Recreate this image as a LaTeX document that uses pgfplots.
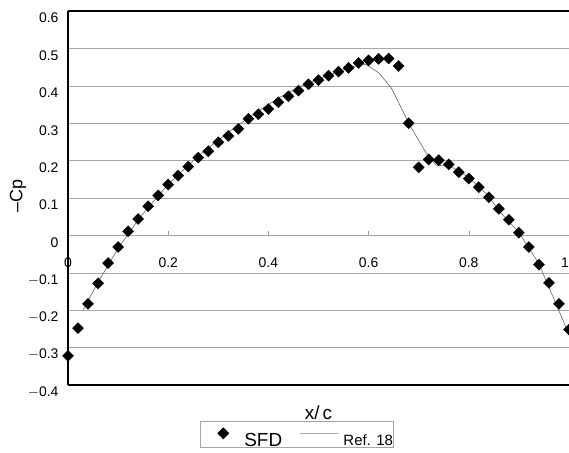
\documentclass[border=0pt]{standalone}
\usepackage{pgfplots}
\pgfplotsset{compat=1.18}
\usepackage{fontspec}
\setmainfont{Liberation Sans}
\begin{document}
\begin{tikzpicture}
\begin{axis}[
  scale only axis, width=501bp, height=374bp,
  xmin=0, xmax=1, ymin=-0.4, ymax=0.6,
  axis x line*=middle, axis y line*=left,
  hide obscured x ticks=false,
  x axis line style={gray!70, line width=0.6bp},
  y axis line style={black, line width=1.8bp},
  xtick={0,0.2,0.4,0.6,0.8,1},
  xticklabels={0,0.2,0.4,0.6,0.8,\llap{1}},
  ytick={-0.4,-0.3,-0.2,-0.1,0,0.1,0.2,0.3,0.4,0.5,0.6},
  yticklabels={$-$0.4,$-$0.3,$-$0.2,$-$0.1,0,0.1,0.2,0.3,0.4,0.5,0.6},
  ymajorgrids,
  major grid style={gray!70, line width=0.6bp},
  xtick align=inside,
  x tick style={gray!80, line width=0.5bp},
  y tick style={draw=none},
  major tick length=4bp,
  tick label style={font=\fontsize{14}{14}\selectfont},
  xticklabel style={yshift=-19bp},
  yticklabel style={yshift=-7bp, xshift=-6bp},
  /pgf/number format/assume math mode=true,
  every axis x label/.style={at={(axis description cs:0.5,0)}, anchor=center, yshift=-28bp},
  every axis y label/.style={at={(axis description cs:-0.0998,0.505)}, anchor=center, rotate=90},
  xlabel={\fontsize{19}{19}\selectfont x/\,c},
  ylabel={\fontsize{18}{18}\selectfont –Cp},
  clip=false,
  legend columns=2,
  legend style={at={(axis description cs:0.2635,-0.0963)}, anchor=north west,
    draw=gray!70, line width=0.6bp, inner sep=0pt,
    nodes={inner sep=0pt, text depth=0pt},
    /tikz/every even column/.append style={column sep=18bp}},
]
\draw[black, line width=1.2bp] (rel axis cs:0,1) -- (rel axis cs:1,1);
\draw[black, line width=1.8bp] (rel axis cs:0,0) -- (rel axis cs:1,0);

\addplot[only marks, mark=square*, mark size=3.9bp, mark options={rotate=45}, black,
  legend image code/.code={
    \path[draw=none, fill=none] (0bp,-7bp) rectangle (44bp,19bp);
    \fill[black] plot[mark=square*, mark size=3.9bp, mark options={rotate=45}] coordinates {(23bp,7bp)};}]
coordinates {
(0.000,-0.322) (0.020,-0.248) (0.040,-0.183) (0.060,-0.128) (0.080,-0.074)
(0.100,-0.031) (0.120,0.011) (0.140,0.044) (0.160,0.078) (0.180,0.107)
(0.200,0.136) (0.220,0.160) (0.240,0.184) (0.260,0.208) (0.280,0.225)
(0.300,0.249) (0.320,0.266) (0.340,0.285) (0.360,0.312) (0.380,0.324)
(0.400,0.338) (0.420,0.356) (0.440,0.372) (0.460,0.387) (0.480,0.404)
(0.500,0.415) (0.520,0.427) (0.540,0.438) (0.560,0.448) (0.580,0.461)
(0.600,0.468) (0.620,0.472) (0.640,0.473) (0.660,0.453) (0.680,0.300)
(0.700,0.182) (0.720,0.203) (0.740,0.201) (0.760,0.190) (0.780,0.169)
(0.800,0.152) (0.820,0.129) (0.840,0.102) (0.860,0.071) (0.880,0.042)
(0.900,0.007) (0.920,-0.031) (0.940,-0.078) (0.960,-0.127) (0.980,-0.183)
(1.000,-0.252)
};
\addlegendentry{\fontsize{19}{19}\selectfont SFD}

\addplot[gray!80!black, line width=0.6bp, no marks,
  legend image code/.code={
    \path[draw=none, fill=none] (0bp,-7bp) rectangle (43bp,19bp);
    \draw[gray!70, line width=0.6bp] (0bp,7bp) -- (38bp,7bp);}]
coordinates {
(0.03,-0.200) (0.06,-0.125) (0.10,-0.035) (0.14,0.042) (0.20,0.137)
(0.26,0.212) (0.30,0.255) (0.34,0.295) (0.38,0.333) (0.42,0.367)
(0.46,0.396) (0.50,0.418) (0.54,0.438) (0.58,0.456) (0.595,0.457)
(0.62,0.435) (0.645,0.395) (0.66,0.355) (0.68,0.300) (0.70,0.254)
(0.72,0.209) (0.735,0.188) (0.75,0.186) (0.77,0.180) (0.80,0.155)
(0.84,0.105) (0.86,0.066) (0.90,0.008) (0.94,-0.076) (0.97,-0.170)
(1.00,-0.265)
};
\addlegendentry{\fontsize{15}{15}\selectfont Ref. 18\hspace{14bp}}
\end{axis}
\pgfresetboundingbox
\useasboundingbox (-68bp,-68bp) rectangle (501bp,385bp);
\end{tikzpicture}
\end{document}
